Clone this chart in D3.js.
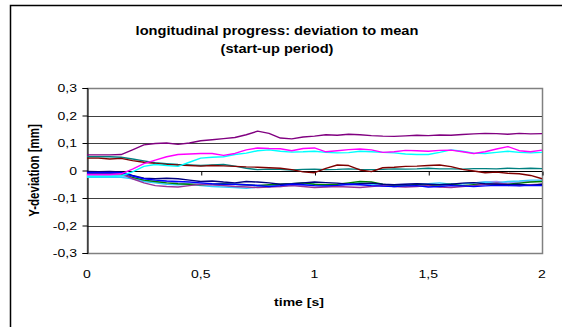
<!DOCTYPE html>
<html>
<head>
<meta charset="utf-8">
<script src="https://cdn.jsdelivr.net/npm/d3@7"></script>
<style>
	body { margin: 0; background: #fff; }
	svg { display: block; font-family: "Liberation Sans", Arial, sans-serif; }
</style>
</head>
<body>
<div id="chart"></div>
<script>
let TIME = [0, 0.05, 0.1, 0.15, 0.2, 0.25, 0.3, 0.35, 0.4, 0.45, 0.5, 0.55, 0.6, 0.65, 0.7, 0.75, 0.8, 0.85, 0.9, 0.95,
	1, 1.05, 1.1, 1.15, 1.2, 1.25, 1.3, 1.35, 1.4, 1.45, 1.5, 1.55, 1.6, 1.65, 1.7, 1.75, 1.8, 1.85, 1.9, 1.95, 2];

// deviation in mm, one array per run
let purpleTop = [0.057, 0.057, 0.057, 0.058, 0.075, 0.093, 0.098, 0.100, 0.095, 0.100, 0.108, 0.112, 0.116, 0.120, 0.130, 0.143, 0.135, 0.118, 0.115, 0.122,
	0.125, 0.130, 0.128, 0.132, 0.130, 0.127, 0.125, 0.124, 0.126, 0.128, 0.127, 0.129, 0.128, 0.131, 0.133, 0.135, 0.134, 0.132, 0.135, 0.133, 0.134];
let magenta = [-0.015, -0.015, -0.015, -0.012, 0.005, 0.025, 0.038, 0.05, 0.058, 0.06, 0.062, 0.062, 0.055, 0.062, 0.075, 0.082, 0.08, 0.079, 0.072, 0.08,
	0.082, 0.068, 0.072, 0.076, 0.078, 0.075, 0.066, 0.068, 0.073, 0.072, 0.07, 0.073, 0.074, 0.068, 0.062, 0.068, 0.078, 0.087, 0.072, 0.068, 0.074];
let cyan = [-0.022, -0.022, -0.022, -0.02, -0.005, 0.015, 0.022, 0.018, 0.015, 0.03, 0.045, 0.048, 0.05, 0.058, 0.063, 0.072, 0.075, 0.07, 0.067, 0.068,
	0.07, 0.066, 0.064, 0.065, 0.07, 0.068, 0.066, 0.064, 0.06, 0.058, 0.058, 0.066, 0.075, 0.07, 0.063, 0.062, 0.066, 0.07, 0.066, 0.064, 0.066];
let teal = [0.05, 0.05, 0.05, 0.048, 0.042, 0.035, 0.028, 0.025, 0.022, 0.02, 0.018, 0.02, 0.022, 0.016, 0.008, 0.003, 0.005, 0.004, 0.002, 0.004,
	0.005, 0.003, 0.004, 0.006, 0.004, 0.003, 0.004, 0.006, 0.005, 0.006, 0.008, 0.006, 0.006, 0.005, 0.007, 0.007, 0.006, 0.008, 0.007, 0.008, 0.007];
let darkRed = [0.045, 0.045, 0.042, 0.044, 0.036, 0.03, 0.026, 0.022, 0.02, 0.018, 0.016, 0.018, 0.017, 0.015, 0.013, 0.012, 0.01, 0.008, 0.003, -0.005,
	-0.008, 0.008, 0.02, 0.018, 0.002, -0.004, 0.01, 0.012, 0.015, 0.016, 0.018, 0.02, 0.014, 0.004, -0.002, -0.008, -0.006, -0.01, -0.012, -0.018, -0.03];
let blue = [-0.008, -0.008, -0.008, -0.008, -0.02, -0.03, -0.035, -0.038, -0.04, -0.042, -0.045, -0.048, -0.05, -0.05, -0.052, -0.055, -0.058, -0.055, -0.05, -0.052,
	-0.055, -0.056, -0.054, -0.05, -0.052, -0.055, -0.057, -0.058, -0.056, -0.055, -0.06, -0.058, -0.055, -0.056, -0.058, -0.056, -0.054, -0.055, -0.056, -0.054, -0.055];
let navy = [-0.003, -0.004, -0.003, -0.005, -0.018, -0.028, -0.03, -0.028, -0.03, -0.035, -0.04, -0.038, -0.042, -0.045, -0.04, -0.042, -0.045, -0.05, -0.048, -0.045,
	-0.042, -0.044, -0.046, -0.05, -0.048, -0.046, -0.05, -0.052, -0.05, -0.048, -0.05, -0.052, -0.05, -0.046, -0.044, -0.048, -0.05, -0.052, -0.05, -0.054, -0.05];
let green = [-0.012, -0.012, -0.012, -0.012, -0.025, -0.035, -0.04, -0.045, -0.048, -0.05, -0.052, -0.05, -0.048, -0.05, -0.052, -0.055, -0.052, -0.05, -0.048, -0.045,
	-0.05, -0.052, -0.05, -0.045, -0.04, -0.042, -0.05, -0.055, -0.056, -0.05, -0.055, -0.052, -0.05, -0.055, -0.052, -0.05, -0.048, -0.05, -0.046, -0.042, -0.04];
let purpleLow = [-0.01, -0.01, -0.01, -0.01, -0.03, -0.045, -0.055, -0.058, -0.06, -0.055, -0.05, -0.052, -0.055, -0.058, -0.06, -0.062, -0.06, -0.058, -0.055, -0.058,
	-0.062, -0.06, -0.058, -0.06, -0.062, -0.058, -0.055, -0.058, -0.06, -0.058, -0.055, -0.06, -0.062, -0.058, -0.055, -0.05, -0.045, -0.05, -0.055, -0.052, -0.05];
let skyBlue = [-0.025, -0.025, -0.025, -0.025, -0.03, -0.04, -0.045, -0.05, -0.052, -0.05, -0.055, -0.058, -0.06, -0.062, -0.065, -0.06, -0.058, -0.055, -0.05, -0.048,
	-0.05, -0.055, -0.052, -0.048, -0.045, -0.05, -0.055, -0.058, -0.055, -0.05, -0.048, -0.045, -0.05, -0.048, -0.045, -0.042, -0.045, -0.04, -0.038, -0.035, -0.035];
let lavender = [-0.018, -0.018, -0.018, -0.018, -0.028, -0.038, -0.042, -0.04, -0.045, -0.048, -0.05, -0.052, -0.055, -0.058, -0.055, -0.052, -0.055, -0.058, -0.055, -0.052,
	-0.055, -0.058, -0.055, -0.052, -0.05, -0.052, -0.055, -0.052, -0.05, -0.048, -0.05, -0.052, -0.05, -0.048, -0.045, -0.042, -0.04, -0.045, -0.042, -0.04, -0.038];

let SERIES = [
	{ color: "#9999ff", values: lavender },
	{ color: "#33ccff", values: skyBlue },
	{ color: "#008000", values: green },
	{ color: "#993399", values: purpleLow },
	{ color: "#000080", values: navy },
	{ color: "#0000ff", values: blue },
	{ color: "#008080", values: teal },
	{ color: "#800000", values: darkRed },
	{ color: "#00ffff", values: cyan },
	{ color: "#ff00ff", values: magenta },
	{ color: "#800080", values: purpleTop }
];

let X_TICKS = [0, 0.5, 1, 1.5, 2];
let Y_TICKS = [-0.3, -0.2, -0.1, 0, 0.1, 0.2, 0.3];
let TITLE = ["longitudinal progress: deviation to mean", "(start-up period)"];

let WIDTH = 562, HEIGHT = 327;
let PLOT = { left: 87, right: 542, top: 88, bottom: 253 };
let STRETCH = 1.22; // the original picture is a bit wider than tall
let fmt = v => String(+v.toFixed(1)).replace(".", ",");

let svg = d3.select("#chart").append("svg").
	attr("width", WIDTH).
	attr("height", HEIGHT);

// text placed at (tx, ty), widened a little like the original
function label(g, tx, ty) {
	return g.attr("transform", (d, i) => `translate(${tx(d, i)},${ty(d, i)}) scale(${STRETCH},1)`);
}

// outer chart frame (runs off the right and bottom edge)
svg.append("rect").
	attr("x", 10.5).attr("y", 5.5).
	attr("width", 600).attr("height", 400).
	attr("fill", "none").attr("stroke", "#000").attr("stroke-width", 1.5);

let x = d3.scaleLinear().domain([0, 2]).range([PLOT.left, PLOT.right]);
let y = d3.scaleLinear().domain([-0.3, 0.3]).range([PLOT.bottom, PLOT.top]);

// plot frame
svg.append("rect").
	attr("x", PLOT.left + 0.5).attr("y", y(0.3) + 0.5).
	attr("width", PLOT.right - PLOT.left).attr("height", PLOT.bottom - PLOT.top).
	attr("fill", "none").attr("stroke", "#808080").attr("stroke-width", 1.5);

// gridlines
svg.append("g").
	selectAll("line").
	data(Y_TICKS.filter(v => v > -0.3 && v < 0.3)).
	join("line").
	attr("x1", PLOT.left).attr("x2", PLOT.right).
	attr("y1", d => Math.round(y(d)) + 0.5).attr("y2", d => Math.round(y(d)) + 0.5).
	attr("stroke", d => d === 0 ? "#000" : "#404040").
	attr("stroke-width", 1);

// y axis: line and ticks from d3, labels drawn below
let yAxis = svg.append("g").
	attr("transform", `translate(${PLOT.left + 0.5},0)`).
	call(d3.axisLeft(y).tickValues(Y_TICKS).tickFormat("").tickSize(5));
yAxis.select(".domain").attr("stroke", "#000");
yAxis.selectAll("line").attr("stroke", "#000");

label(svg.append("g").
	selectAll("text").
	data(Y_TICKS).
	join("text"), () => PLOT.left - 10, d => y(d) + 4).
	attr("text-anchor", "end").
	attr("font-size", 11.5).
	text(fmt);

// x axis on the zero line: ticks only
let xAxis = svg.append("g").
	attr("transform", `translate(0.5,${Math.round(y(0)) + 0.5})`).
	call(d3.axisBottom(x).tickValues(X_TICKS).tickFormat("").tickSize(4).tickSizeOuter(0));
xAxis.select(".domain").remove();
xAxis.selectAll("line").attr("stroke", "#000");

// x tick labels below the plot
label(svg.append("g").
	selectAll("text").
	data(X_TICKS).
	join("text"), d => x(d), () => PLOT.bottom + 25).
	attr("text-anchor", "middle").
	attr("font-size", 11.5).
	text(fmt);

let line = d3.line().
	x((d, i) => x(TIME[i])).
	y(d => y(d));

svg.append("g").
	attr("fill", "none").
	attr("stroke-width", 1.4).
	attr("stroke-linejoin", "round").
	selectAll("path").
	data(SERIES).
	join("path").
	attr("stroke", d => d.color).
	attr("d", d => line(d.values));

// title
label(svg.append("g").
	selectAll("text").
	data(TITLE).
	join("text"), () => 277, (d, i) => 35 + i * 18).
	attr("text-anchor", "middle").
	attr("font-size", 12).
	attr("font-weight", "bold").
	text(d => d);

label(svg.append("g").
	selectAll("text").
	data(["time [s]"]).
	join("text"), () => 299, () => 306).
	attr("text-anchor", "middle").
	attr("font-size", 11.5).
	attr("font-weight", "bold").
	text(d => d);

svg.append("text").
	attr("transform", `translate(39,${y(0)}) scale(${STRETCH},1) rotate(-90)`).
	attr("text-anchor", "middle").
	attr("font-size", 11.5).
	attr("font-weight", "bold").
	text("Y-deviation [mm]");
</script>
</body>
</html>
